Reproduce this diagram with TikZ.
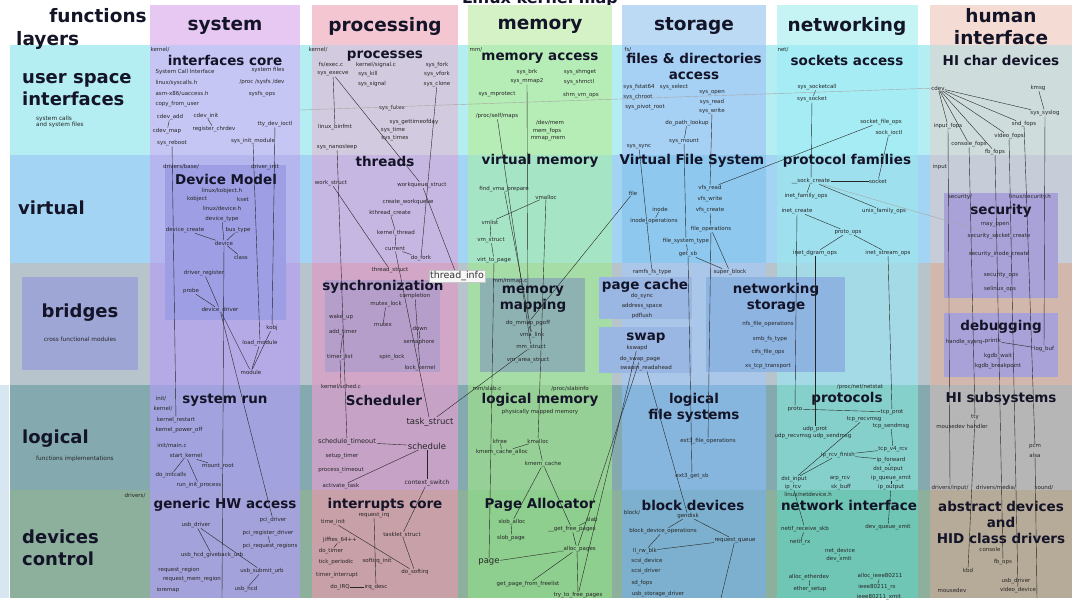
\documentclass[tikz,border=0pt]{standalone}
\usepackage{fontspec}
\setmainfont{DejaVu Sans}
% layer bands
\definecolor{bandA}{HTML}{B4EEF2}
\definecolor{bandB}{HTML}{A4D4F4}
\definecolor{bandC}{HTML}{B8C4CC}
\definecolor{bandD}{HTML}{84AAB0}
\definecolor{bandE}{HTML}{8CB09C}
\definecolor{edgeStrip}{HTML}{D8E6F2}
% column headers
\definecolor{hSys}{HTML}{E6C8F2}
\definecolor{hProc}{HTML}{F4C6D2}
\definecolor{hMem}{HTML}{D4F2C6}
\definecolor{hStor}{HTML}{BCDAF4}
\definecolor{hNet}{HTML}{C6F4F4}
\definecolor{hHI}{HTML}{F4DCD4}
% cells, row 1
\definecolor{aSys}{HTML}{C6C6F4}
\definecolor{aProc}{HTML}{D2CADE}
\definecolor{aMem}{HTML}{B6ECB6}
\definecolor{aStor}{HTML}{A6D0F4}
\definecolor{aNet}{HTML}{A6ECF4}
\definecolor{aHI}{HTML}{CEDCDC}
% row 2
\definecolor{bSys}{HTML}{B6B6EE}
\definecolor{bDM}{HTML}{9E9EE4}
\definecolor{bProc}{HTML}{C6B6E2}
\definecolor{bMem}{HTML}{A6E4C6}
\definecolor{bStor}{HTML}{8EC8EE}
\definecolor{bNet}{HTML}{9EE0EE}
\definecolor{bHI}{HTML}{C6CCD8}
\definecolor{secBox}{HTML}{A8A2D8}
% row 3
\definecolor{cLeft}{HTML}{9EA6D6}
\definecolor{cSys}{HTML}{B6AAE6}
\definecolor{cProc}{HTML}{D2A6C6}
\definecolor{cSync}{HTML}{B69ECA}
\definecolor{cMem}{HTML}{A6DCA6}
\definecolor{cMM}{HTML}{8EB2B2}
\definecolor{cStor}{HTML}{AAC6E8}
\definecolor{cPC}{HTML}{9AB6E2}
\definecolor{cNet}{HTML}{A4DAE6}
\definecolor{cNS}{HTML}{8EB4E2}
\definecolor{cHI}{HTML}{D2B8AC}
% row 4
\definecolor{dSys}{HTML}{A2A2DE}
\definecolor{dProc}{HTML}{C6A2C6}
\definecolor{dMem}{HTML}{96D096}
\definecolor{dStor}{HTML}{86B6DE}
\definecolor{dNet}{HTML}{86D0CC}
\definecolor{dHI}{HTML}{B6B6B6}
% row 5
\definecolor{eSys}{HTML}{A4A2DA}
\definecolor{eProc}{HTML}{C8A0A8}
\definecolor{eMem}{HTML}{8ECE8E}
\definecolor{eStor}{HTML}{7CB0CE}
\definecolor{eNet}{HTML}{70C6B4}
\definecolor{eHI}{HTML}{B6AA98}
\definecolor{ink}{HTML}{141428}
\begin{document}
\begin{tikzpicture}[x=1pt,y=-1pt,
  lbl/.style={font=\fontsize{5.5}{6.3}\selectfont, inner sep=0.4pt, text=black!85},
  lblw/.style={lbl, anchor=west},
  mid/.style={font=\fontsize{8.5}{10}\selectfont, inner sep=0.5pt, text=black!85},
  ttl/.style={font=\bfseries\fontsize{13.5}{16}\selectfont, inner sep=0pt, text=ink, align=center},
  hdr/.style={font=\bfseries\fontsize{18.5}{22}\selectfont, inner sep=0pt, text=ink, align=center},
  rowl/.style={font=\bfseries\fontsize{18}{22}\selectfont, inner sep=0pt, anchor=west, align=left, text=ink},
  note/.style={font=\fontsize{5.8}{6.8}\selectfont, inner sep=0pt, align=left, text=black!85},
  wire/.style={draw=black!85, line width=0.4pt},
  faint/.style={draw=black!35, line width=0.4pt},
]
\useasboundingbox (0,0) rectangle (1072,602);
\fill[white] (0,0) rectangle (1072,602);

% ---------------- map title (cut by the top edge)
\node[font=\bfseries\fontsize{16}{18}\selectfont, anchor=base, inner sep=0pt, text=ink] (maptitle) at (540,4) {Linux kernel map};

% ---------------- layer bands
\fill[bandA] (10,45) rectangle (1072,155);
\fill[bandB] (10,155) rectangle (1072,263);
\fill[bandC] (10,263) rectangle (1072,385);
\fill[bandD] (10,385) rectangle (1072,490);
\fill[bandE] (10,490) rectangle (1072,598);
\fill[edgeStrip] (0,385) rectangle (9,598);

% ---------------- column headers
\fill[hSys]  (150,5) rectangle (300,45);
\fill[hProc] (312,5) rectangle (458,45);
\fill[hMem]  (468,5) rectangle (612,45);
\fill[hStor] (622,5) rectangle (766,45);
\fill[hNet]  (777,5) rectangle (918,45);
\fill[hHI]   (930,5) rectangle (1072,45);

% ---------------- cells
\fill[aSys]  (150,45) rectangle (300,155);
\fill[aProc] (312,45) rectangle (458,155);
\fill[aMem]  (468,45) rectangle (612,155);
\fill[aStor] (622,45) rectangle (766,155);
\fill[aNet]  (777,45) rectangle (918,155);
\fill[aHI]   (930,45) rectangle (1072,155);

\fill[bSys]  (150,155) rectangle (300,263);
\fill[bProc] (312,155) rectangle (458,263);
\fill[bMem]  (468,155) rectangle (612,263);
\fill[bStor] (622,155) rectangle (766,263);
\fill[bNet]  (777,155) rectangle (918,263);
\fill[bHI]   (930,155) rectangle (1072,263);

\fill[cSys]  (150,263) rectangle (300,385);
\fill[cProc] (312,263) rectangle (458,385);
\fill[cMem]  (468,263) rectangle (612,385);
\fill[cStor] (622,263) rectangle (766,385);
\fill[cNet]  (777,263) rectangle (918,385);
\fill[cHI]   (930,263) rectangle (1072,385);

\fill[dSys]  (150,385) rectangle (300,490);
\fill[dProc] (312,385) rectangle (458,490);
\fill[dMem]  (468,385) rectangle (612,490);
\fill[dStor] (622,385) rectangle (766,490);
\fill[dNet]  (777,385) rectangle (918,490);
\fill[dHI]   (930,385) rectangle (1072,490);

\fill[eSys]  (150,490) rectangle (300,598);
\fill[eProc] (312,490) rectangle (458,598);
\fill[eMem]  (468,490) rectangle (612,598);
\fill[eStor] (622,490) rectangle (766,598);
\fill[eNet]  (777,490) rectangle (918,598);
\fill[eHI]   (930,490) rectangle (1072,598);

% ---------------- inner boxes
\fill[cLeft] (22,277) rectangle (138,370);
\fill[bDM]   (165,165) rectangle (286,320);
\fill[cSync] (325,280) rectangle (440,372);
\fill[cMM]   (480,278) rectangle (585,372);
\fill[cPC]   (599,277) rectangle (692,319);
\fill[cPC]   (599,327) rectangle (692,373);
\fill[cNS]   (706,277) rectangle (845,372);
\fill[secBox] (944,193) rectangle (1058,298);
\fill[secBox] (944,313) rectangle (1058,377);

% ---------------- header texts
\node[hdr] (hfunc) at (98,16) {functions};
\node[hdr, anchor=west] (hlay) at (16,40) {layers};
\node[hdr] (csys) at (225,26) {system};
\node[hdr] (cproc) at (385,26) {processing};
\node[hdr] (cmem) at (540,26) {memory};
\node[hdr] (cstor) at (694,26) {storage};
\node[hdr] (cnet) at (847,26) {networking};
\node[hdr] (chi) at (1001,27) {human\\interface};

% ---------------- layer names
\node[rowl] (rusr) at (22,90) {user space\\interfaces};
\node[note, anchor=west] (rusrn) at (36,122) {system calls\\and system files};
\node[rowl] (rvirt) at (18,208) {virtual};
\node[rowl, anchor=center] (rbr) at (80,313) {bridges};
\node[note] (rbrn) at (80,339) {cross functional modules};
\node[rowl] (rlog) at (22,439) {logical};
\node[note, anchor=west] (rlogn) at (36,459) {functions implementations};
\node[rowl] (rdev) at (22,548) {devices\\control};

% ---------------- cell titles
\node[ttl] (tic) at (225,60) {interfaces core};
\node[ttl] (tproc) at (385,56) {processes};
\node[ttl] (tmacc) at (540,58) {memory access};
\node[ttl] (tfda) at (694,66) {files \& directories\\access};
\node[ttl] (tsock) at (847,60) {sockets access};
\node[ttl] (thic) at (1001,60) {HI char devices};
\node[ttl] (tdm) at (226,179) {Device Model};
\node[ttl] (tthr) at (385,161) {threads};
\node[ttl] (tvm) at (540,161) {virtual memory};
\node[ttl] (tvfs) at (692,161) {Virtual File System};
\node[ttl] (tpf) at (847,161) {protocol families};
\node[ttl] (tsec) at (1001,211) {security};
\node[ttl] (tsync) at (383,287) {synchronization};
\node[ttl] (tmm) at (533,299) {memory\\mapping};
\node[ttl] (tpc) at (645,286) {page cache};
\node[ttl] (tswap) at (646,338) {swap};
\node[ttl] (tns) at (776,298) {networking\\storage};
\node[ttl] (tdbg) at (1001,327) {debugging};
\node[ttl] (tsr) at (225,400) {system run};
\node[ttl] (tsch) at (384,400) {Scheduler};
\node[ttl] (tlm) at (540,400) {logical memory};
\node[ttl] (tlfs) at (694,408) {logical\\file systems};
\node[ttl] (tprot) at (847,399) {protocols};
\node[ttl] (this) at (1001,399) {HI subsystems};
\node[ttl] (tghw) at (225,505) {generic HW access};
\node[ttl] (tirq) at (385,505) {interrupts core};
\node[ttl] (tpa) at (540,505) {Page Allocator};
\node[ttl] (tbd) at (693,505) {block devices};
\node[ttl] (tni) at (849,505) {network interface};
\node[ttl] (tad) at (1001,522) {abstract devices\\and\\HID class drivers};

% ================= system column
\node[lbl] (kdir) at (160,50) {kernel/};
\node[lblw] (sci) at (155,72) {System Call Interface};
\node[lbl] (sysfiles) at (268,70) {system files};
\node[lblw] (sysh) at (155,83) {linux/syscalls.h};
\node[lbl] (procfs) at (262,82) {/proc /sysfs /dev};
\node[lblw] (uacc) at (155,94) {asm-x86/uaccess.h};
\node[lbl] (sysfsops) at (262,94) {sysfs\_ops};
\node[lblw] (cfu) at (155,104) {copy\_from\_user};
\node[lbl] (cdevadd) at (170,117) {cdev\_add};
\node[lbl] (cdevinit) at (206,116) {cdev\_init};
\node[lbl] (cdevmap) at (167,131) {cdev\_map};
\node[lbl] (regchr) at (214,129) {register\_chrdev};
\node[lbl] (ttyio) at (275,124) {tty\_dev\_ioctl};
\node[lbl] (sysreboot) at (172,143) {sys\_reboot};
\node[lbl] (sysinit) at (253,141) {sys\_init\_module};

\node[lbl] (drvbase) at (181,167) {drivers/base/};
\node[lbl] (drvinit) at (265,167) {driver\_init};
\node[lbl] (kobjh) at (222,191) {linux/kobject.h};
\node[lbl] (kobject) at (197,199) {kobject};
\node[lbl] (kset) at (243,199) {kset};
\node[lbl] (devh) at (222,209) {linux/device.h};
\node[lbl] (devtype) at (222,219) {device\_type};
\node[lbl] (devcreate) at (185,230) {device\_create};
\node[lbl] (bustype) at (238,230) {bus\_type};
\node[lbl] (device) at (224,243) {device};
\node[lbl] (class) at (241,257) {class};

\node[lbl] (drvreg) at (204,273) {driver\_register};
\node[lbl] (probe) at (191,291) {probe};
\node[lbl] (devdrv) at (220,310) {device\_driver};
\node[lbl] (kobj) at (272,328) {kobj};
\node[lbl] (loadmod) at (260,343) {load\_module};
\node[lbl] (module) at (251,372) {module};

\node[lbl] (initdir) at (161,399) {init/};
\node[lbl] (kerndir) at (163,409) {kernel/};
\node[lbl] (krestart) at (176,420) {kernel\_restart};
\node[lbl] (kpoweroff) at (179,430) {kernel\_power\_off};
\node[lbl] (initmain) at (172,446) {init/main.c};
\node[lbl] (startk) at (186,456) {start\_kernel};
\node[lbl] (mountroot) at (218,466) {mount\_root};
\node[lbl] (doinit) at (171,475) {do\_initcalls};
\node[lbl] (runinit) at (199,485) {run\_init\_process};

\node[lbl] (drvdir) at (135,496) {drivers/};
\node[lbl] (usbdrv) at (196,525) {usb\_driver};
\node[lbl] (pcidrv) at (273,520) {pci\_driver};
\node[lbl] (pcireg) at (268,533) {pci\_register\_driver};
\node[lbl] (pcireq) at (270,546) {pci\_request\_regions};
\node[lbl] (usbgive) at (212,555) {usb\_hcd\_giveback\_urb};
\node[lbl] (reqreg) at (179,570) {request\_region};
\node[lbl] (reqmem) at (192,579) {request\_mem\_region};
\node[lbl] (ioremap) at (168,590) {ioremap};
\node[lbl] (usbsub) at (262,571) {usb\_submit\_urb};
\node[lbl] (usbhcd) at (246,589) {usb\_hcd};
\coordinate (devbot) at (222,598);

\draw[wire] (cdevadd) -- (cdevmap);
\draw[wire] (cdevinit) -- (regchr);
\draw[wire] (sysreboot) -- (krestart);
\draw[wire] (sysinit) -- (loadmod);
\draw[wire] (ttyio) -- (kobj);
\draw[wire] (devcreate) -- (device);
\draw[wire] (bustype) -- (device);
\draw[wire] (devtype) -- (device);
\draw[wire] (device) -- (class);
\draw[wire] (drvreg) -- (devdrv);
\draw[wire] (probe) -- (devdrv);
\draw[wire] (devdrv) -- (module);
\draw[wire] (loadmod) -- (module);
\draw[wire] (kobj) -- (module);
\draw[wire] (device) -- (devbot);
\draw[wire] (devdrv) -- (pcidrv);
\draw[wire] (startk) -- (mountroot);
\draw[wire] (startk) -- (doinit);
\draw[wire] (startk) -- (runinit);
\draw[wire] (usbdrv) -- (usbgive);
\draw[wire] (usbdrv) -- (usbsub);
\draw[wire] (usbsub) -- (usbhcd);
\draw[wire] (pcireg) -- (pcireq);

% ================= processing column
\node[lbl] (kdir2) at (318,50) {kernel/};
\node[lbl] (fsexec) at (331,65) {fs/exec.c};
\node[lbl] (ksignal) at (376,65) {kernel/signal.c};
\node[lbl] (sysfork) at (437,65) {sys\_fork};
\node[lbl] (sysexecve) at (333,74) {sys\_execve};
\node[lbl] (syskill) at (368,74) {sys\_kill};
\node[lbl] (sysvfork) at (437,74) {sys\_vfork};
\node[lbl] (syssignal) at (372,84) {sys\_signal};
\node[lbl] (sysclone) at (437,84) {sys\_clone};
\node[lbl] (sysfutex) at (392,108) {sys\_futex};
\node[lbl] (gettod) at (414,122) {sys\_gettimeofday};
\node[lbl] (binfmt) at (335,127) {linux\_binfmt};
\node[lbl] (systime) at (393,130) {sys\_time};
\node[lbl] (systimes) at (395,138) {sys\_times};
\node[lbl] (nanosleep) at (337,147) {sys\_nanosleep};

\node[lbl] (workstr) at (331,183) {work\_struct};
\node[lbl] (wqstr) at (422,185) {workqueue\_struct};
\node[lbl] (createwq) at (408,202) {create\_workqueue};
\node[lbl] (kthcreate) at (390,213) {kthread\_create};
\node[lbl] (kthread) at (396,233) {kernel\_thread};
\node[lbl] (current) at (395,249) {current};
\node[lbl] (dofork) at (421,258) {do\_fork};
\node[lbl] (thrstr) at (390,270) {thread\_struct};

\node[lbl] (completion) at (415,296) {completion};
\node[lbl] (mutexlock) at (386,304) {mutex\_lock};
\node[lbl] (wakeup) at (341,317) {wake\_up};
\node[lbl] (mutex) at (383,325) {mutex};
\node[lbl] (down) at (420,328) {down};
\node[lbl] (addtimer) at (343,332) {add\_timer};
\node[lbl] (semaphore) at (419,342) {semaphore};
\node[lbl] (timerlist) at (340,357) {timer\_list};
\node[lbl] (spinlock) at (392,357) {spin\_lock};
\node[lbl] (lockk) at (420,368) {lock\_kernel};

\node[lbl] (schedc) at (341,387) {kernel/sched.c};
\node[mid] (taskstr) at (430,422) {task\_struct};
\node[font=\fontsize{6.5}{8}\selectfont, inner sep=0.5pt, text=black!85] (schedto) at (347,442) {schedule\_timeout};
\node[mid] (schedule) at (427,446) {schedule};
\node[lbl] (setuptimer) at (342,456) {setup\_timer};
\node[lbl] (proctimeout) at (341,470) {process\_timeout};
\node[lbl] (activate) at (341,486) {activate\_task};
\node[font=\fontsize{6}{7}\selectfont, inner sep=0.5pt, text=black!85] (ctxsw) at (427,483) {context\_switch};

\node[lbl] (reqirq) at (374,515) {request\_irq};
\node[lbl] (timeinit) at (333,522) {time\_init};
\node[lbl] (tasklet) at (402,535) {tasklet\_struct};
\node[lbl] (jiffies) at (340,540) {jiffies\_64++};
\node[lbl] (dotimer) at (331,551) {do\_timer};
\node[lbl] (softinit) at (377,561) {softirq\_init};
\node[lbl] (tickper) at (336,562) {tick\_periodic};
\node[lbl] (dosoftirq) at (415,572) {do\_softirq};
\node[lbl] (timerint) at (337,575) {timer\_interrupt};
\node[lbl] (doirq) at (340,587) {do\_IRQ};
\node[lbl] (irqdesc) at (376,587) {irq\_desc};

\node[font=\fontsize{9.5}{11}\selectfont, fill=gray!6, draw=gray!45, inner sep=1.3pt, text=black!80] (tinfo) at (457,276) {thread\_info};

\draw[wire] (sysexecve) -- (binfmt);
\draw[wire] (sysexecve) -- (wqstr);
\draw[wire] (wqstr) -- (tinfo);
\draw[wire] (sysclone) -- (dofork);
\draw[wire] (nanosleep) -- (schedto);
\draw[wire] (workstr) -- (thrstr);
\draw[wire] (kthcreate) -- (kthread);
\draw[wire] (kthread) -- (current);
\draw[wire] (current) -- (dofork);
\draw[wire] (mutexlock) -- (mutex);
\draw[wire] (down) -- (semaphore);
\draw[wire] (completion) -- (lockk);
\draw[wire] (addtimer) -- (timerlist);
\draw[wire] (timerlist) -- (schedc);
\draw[wire] (schedto) -- (schedule);
\draw[wire] (schedule) -- (ctxsw);
\draw[wire] (schedule) -- (activate);
\draw[wire] (current) -- (taskstr);
\draw[wire] (reqirq) -- (irqdesc);
\draw[wire] (timeinit) -- (dosoftirq);
\draw[wire] (doirq) -- (irqdesc);
\draw[wire] (dotimer) -- (jiffies);
\draw[wire] (tasklet) -- (dosoftirq);
\draw[wire] (ctxsw) -- (tasklet);

% ================= memory column
\node[lbl] (mmdir) at (476,50) {mm/};
\node[lbl] (sysbrk) at (527,72) {sys\_brk};
\node[lbl] (sysmmap) at (527,81) {sys\_mmap2};
\node[lbl] (shmget) at (580,72) {sys\_shmget};
\node[lbl] (shmctl) at (579,82) {sys\_shmctl};
\node[lbl] (shmvm) at (581,95) {shm\_vm\_ops};
\node[lbl] (mprot) at (497,94) {sys\_mprotect};
\node[lbl] (procmaps) at (497,116) {/proc/self/maps};
\node[lbl] (devmem) at (550,123) {/dev/mem};
\node[lbl] (memfops) at (547,131) {mem\_fops};
\node[lbl] (mmapmem) at (548,139) {mmap\_mem};

\node[lbl] (findvma) at (504,189) {find\_vma\_prepare};
\node[lbl] (vmalloc) at (546,197) {vmalloc};
\node[lbl] (vmlist) at (490,222) {vmlist};
\node[lbl] (vmstruct) at (491,240) {vm\_struct};
\node[lbl] (virttopage) at (494,260) {virt\_to\_page};
\node[lbl] (mmapc) at (510,281) {mm/mmap.c};

\node[lbl] (domap) at (528,323) {do\_mmap\_pgoff};
\node[lbl] (vmalink) at (532,335) {vma\_link};
\node[lbl] (mmstruct) at (531,347) {mm\_struct};
\node[lbl] (vmarea) at (528,360) {vm\_area\_struct};

\node[lbl] (slabc) at (487,389) {mm/slab.c};
\node[lbl] (slabinfo) at (570,389) {/proc/slabinfo};
\node[lbl] (physmem) at (540,412) {physically mapped memory};
\node[lbl] (kfree) at (500,441) {kfree};
\node[lbl] (kmalloc) at (538,441) {kmalloc};
\node[lbl] (kmcalloc) at (502,452) {kmem\_cache\_alloc};
\node[lbl] (kmcache) at (543,464) {kmem\_cache};

\node[lbl] (sloballoc) at (512,522) {slob\_alloc};
\node[lbl] (slab) at (592,519) {slab};
\node[lbl] (getfree) at (572,529) {\_\_get\_free\_pages};
\node[lbl] (slobpage) at (511,538) {slob\_page};
\node[lbl] (allocpages) at (577,549) {\_\_alloc\_pages};
\node[mid] (page) at (489,562) {page};
\node[lbl] (getpage) at (528,584) {get\_page\_from\_freelist};
\node[lbl] (tryfree) at (578,595) {try\_to\_free\_pages};

\draw[wire] (sysmmap) -- (domap);
\draw[wire] (procmaps) -- (mmstruct);
\draw[wire] (vmalloc) -- (vmlist);
\draw[wire] (vmlist) -- (vmstruct);
\draw[wire] (vmstruct) -- (virttopage);
\draw[wire] (virttopage) -- (page);
\draw[wire] (vmalloc) -- (kmalloc);
\draw[wire] (findvma) -- (vmalink);
\draw[wire] (domap) -- (vmalink);
\draw[wire] (taskstr) -- (mmstruct);
\draw[wire] (kmalloc) -- (kmcalloc);
\draw[wire] (kmalloc) -- (kmcache);
\draw[wire] (kfree) -- (kmcalloc);
\draw[wire] (kmcache) -- (sloballoc);
\draw[wire] (kmcache) -- (getfree);
\draw[wire] (sloballoc) -- (slobpage);
\draw[wire] (slab) -- (getfree);
\draw[wire] (getfree) -- (allocpages);
\draw[wire] (allocpages) -- (page);
\draw[wire] (allocpages) -- (getpage);
\draw[wire] (allocpages) -- (tryfree);

% ================= storage column
\node[lbl] (fsdir) at (628,50) {fs/};
\node[lbl] (fstat) at (639,87) {sys\_fstat64};
\node[lbl] (select) at (674,87) {sys\_select};
\node[lbl] (sysopen) at (712,93) {sys\_open};
\node[lbl] (chroot) at (638,97) {sys\_chroot};
\node[lbl] (sysread) at (712,102) {sys\_read};
\node[lbl] (pivot) at (645,107) {sys\_pivot\_root};
\node[lbl] (syswrite) at (712,111) {sys\_write};
\node[lbl] (pathlookup) at (687,123) {do\_path\_lookup};
\node[lbl] (sysmount) at (684,141) {sys\_mount};
\node[lbl] (syssync) at (639,147) {sys\_sync};

\node[lbl] (file) at (633,193) {file};
\node[lbl] (vfsread) at (710,188) {vfs\_read};
\node[lbl] (vfswrite) at (710,199) {vfs\_write};
\node[lbl] (inode) at (660,209) {inode};
\node[lbl] (vfscreate) at (710,210) {vfs\_create};
\node[lbl] (inodeops) at (654,221) {inode\_operations};
\node[lbl] (fileops) at (711,229) {file\_operations};
\node[lbl] (fstype) at (686,241) {file\_system\_type};
\node[lbl] (getsb) at (688,254) {get\_sb};
\node[lbl] (ramfs) at (652,272) {ramfs\_fs\_type};
\node[lbl] (superblk) at (730,272) {super\_block};

\node[lbl] (dosync) at (642,296) {do\_sync};
\node[lbl] (addrspace) at (642,306) {address\_space};
\node[lbl] (pdflush) at (642,316) {pdflush};
\node[lbl] (kswapd) at (637,348) {kswapd};
\node[lbl] (doswap) at (640,359) {do\_swap\_page};
\node[lbl] (swapin) at (646,368) {swapin\_readahead};

\node[lbl] (nfsops) at (768,324) {nfs\_file\_operations};
\node[lbl] (smbfs) at (770,339) {smb\_fs\_type};
\node[lbl] (cifsops) at (768,352) {cifs\_file\_ops};
\node[lbl] (xstcp) at (768,366) {xs\_tcp\_transport};

\node[lbl] (ext3ops) at (708,441) {ext3\_file\_operations};
\node[lbl] (ext3sb) at (692,476) {ext3\_get\_sb};

\node[lbl] (blockdir) at (632,513) {block/};
\node[lbl] (gendisk) at (688,516) {gendisk};
\node[lbl] (bdops) at (663,531) {block\_device\_operations};
\node[lbl] (reqq) at (735,540) {request\_queue};
\node[lbl] (llrw) at (645,551) {ll\_rw\_blk};
\node[lbl] (scsidev) at (647,561) {scsi\_device};
\node[lbl] (scsidrv) at (646,571) {scsi\_driver};
\node[lbl] (sdfops) at (642,583) {sd\_fops};
\node[lbl] (usbstor) at (658,594) {usb\_storage\_driver};
\coordinate (rqbot) at (721,598);

\draw[wire] (syswrite) -- (vfsread);
\draw[wire] (sysmount) -- (fstype);
\draw[wire] (syssync) -- (ramfs);
\draw[wire] (pathlookup) -- (sysmount);
\draw[wire] (vfscreate) -- (fileops);
\draw[wire] (fileops) -- (superblk);
\draw[wire] (fstype) -- (getsb);
\draw[wire] (getsb) -- (superblk);
\draw[wire] (inode) -- (inodeops);
\draw[wire] (file) -- (domap);
\draw[wire] (fileops) -- (ext3ops);
\draw[wire] (getsb) -- (ext3sb);
\draw[wire] (kswapd) -- (tryfree);
\draw[wire] (doswap) -- (allocpages);
\draw[wire] (swapin) -- (gendisk);
\draw[wire] (gendisk) -- (bdops);
\draw[wire] (gendisk) -- (reqq);
\draw[wire] (bdops) -- (llrw);
\draw[wire] (llrw) -- (reqq);
\draw[wire] (reqq) -- (rqbot);

% ================= networking column
\node[lbl] (netdir) at (783,50) {net/};
\node[lbl] (socketcall) at (817,87) {sys\_socketcall};
\node[lbl] (syssocket) at (812,99) {sys\_socket};
\node[lbl] (sockfops) at (881,122) {socket\_file\_ops};
\node[lbl] (sockioctl) at (889,133) {sock\_ioctl};

\node[lbl] (sockcreate) at (811,181) {\_\_sock\_create};
\node[lbl] (socket) at (878,181) {socket};
\node[lbl] (inetfam) at (806,196) {inet\_family\_ops};
\node[lbl] (inetcreate) at (797,211) {inet\_create};
\node[lbl] (unixfam) at (884,211) {unix\_family\_ops};
\node[lbl] (protoops) at (848,232) {proto\_ops};
\node[lbl] (dgramops) at (815,253) {inet\_dgram\_ops};
\node[lbl] (streamops) at (888,253) {inet\_stream\_ops};

\node[lbl] (procnet) at (860,387) {/proc/net/netstat};
\node[lbl] (proto) at (795,409) {proto};
\node[lbl] (tcpprot) at (892,412) {tcp\_prot};
\node[lbl] (tcprecv) at (864,419) {tcp\_recvmsg};
\node[lbl] (tcpsend) at (891,426) {tcp\_sendmsg};
\node[lbl] (udpprot) at (815,429) {udp\_prot};
\node[lbl] (udpmsg) at (813,436) {udp\_recvmsg udp\_sendmsg};
\node[lbl] (tcpv4) at (893,449) {tcp\_v4\_rcv};
\node[lbl] (iprcvfin) at (838,455) {ip\_rcv\_finish};
\node[lbl] (ipfwd) at (891,460) {ip\_forward};
\node[lbl] (dstout) at (888,469) {dst\_output};
\node[lbl] (dstin) at (794,479) {dst\_input};
\node[lbl] (arprcv) at (840,479) {arp\_rcv};
\node[lbl] (ipqx) at (891,478) {ip\_queue\_xmit};
\node[lbl] (iprcv) at (793,487) {ip\_rcv};
\node[lbl] (skbuff) at (841,487) {sk\_buff};
\node[lbl] (ipout) at (891,487) {ip\_output};

\node[lbl] (netdevh) at (808,495) {linux/netdevice.h};
\node[lbl] (devqx) at (888,527) {dev\_queue\_xmit};
\node[lbl] (netifrecv) at (805,529) {netif\_receive\_skb};
\node[lbl] (netifrx) at (800,542) {netif\_rx};
\node[lbl] (netdev) at (840,551) {net\_device};
\node[lbl] (devxmit) at (839,559) {dev\_xmit};
\node[lbl] (allocether) at (809,577) {alloc\_etherdev};
\node[lbl] (allocieee) at (880,576) {alloc\_ieee80211};
\node[lbl] (ethersetup) at (810,589) {ether\_setup};
\node[lbl] (ieeerx) at (877,587) {ieee80211\_rx};
\node[lbl] (ieeexmit) at (879,597) {ieee80211\_xmit};

\draw[wire] (socketcall) -- (syssocket);
\draw[wire] (syssocket) -- (sockcreate);
\draw[wire] (sockioctl) -- (socket);
\draw[wire] (vfsread) -- (sockfops);
\draw[wire] (sockcreate) -- (socket);
\draw[wire] (sockcreate) -- (inetfam);
\draw[wire] (sockcreate) -- (unixfam);
\draw[wire] (inetcreate) -- (protoops);
\draw[wire] (protoops) -- (dgramops);
\draw[wire] (protoops) -- (streamops);
\draw[wire] (inetcreate) -- (proto);
\draw[wire] (dgramops) -- (udpprot);
\draw[wire] (streamops) -- (tcpprot);
\draw[wire] (proto) -- (tcpprot);
\draw[wire] (udpprot) -- (udpmsg);
\draw[wire] (tcpsend) -- (tcpv4);
\draw[wire] (tcpv4) -- (iprcvfin);
\draw[wire] (iprcvfin) -- (ipfwd);
\draw[wire] (tcprecv) -- (dstin);
\draw[wire] (iprcvfin) -- (dstin);
\draw[wire] (dstin) -- (iprcv);
\draw[wire] (ipqx) -- (ipout);
\draw[wire] (ipfwd) -- (dstout);
\draw[wire] (iprcv) -- (netifrecv);
\draw[wire] (ipout) -- (devqx);
\draw[wire] (netifrecv) -- (netifrx);
\draw[wire] (netdev) -- (devxmit);
\draw[wire] (allocether) -- (ethersetup);
\draw[wire] (allocieee) -- (ieeerx);

% ================= human interface column
\node[lbl] (cdev) at (938,88) {cdev};
\node[lbl] (kmsg) at (1038,88) {kmsg};
\node[lbl] (syslog) at (1045,113) {sys\_syslog};
\node[lbl] (sndfops) at (1024,124) {snd\_fops};
\node[lbl] (inputfops) at (948,126) {input\_fops};
\node[lbl] (videofops) at (1009,136) {video\_fops};
\node[lbl] (consfops) at (969,144) {console\_fops};
\node[lbl] (fbfops) at (995,152) {fb\_fops};
\coordinate (cdevend) at (300,110);

\node[lbl] (input) at (940,167) {input};
\node[lbl] (secdir) at (960,197) {security/};
\node[lbl] (sech) at (1030,197) {linux/security.h};
\node[lbl] (mayopen) at (995,225) {may\_open};
\node[lbl] (secsock) at (999,236) {security\_socket\_create};
\node[lbl] (secinode) at (999,254) {security\_inode\_create};
\node[lbl] (secops) at (1001,275) {security\_ops};
\node[lbl] (selinux) at (1000,289) {selinux\_ops};

\node[lbl] (sysrq) at (964,342) {handle\_sysrq};
\node[lbl] (printk) at (993,341) {printk};
\node[lbl] (logbuf) at (1044,349) {log\_buf};
\node[lbl] (kgdbwait) at (998,356) {kgdb\_wait};
\node[lbl] (kgdbbp) at (998,366) {kgdb\_breakpoint};

\node[lbl] (tty) at (975,417) {tty};
\node[lbl] (mousehand) at (962,426) {mousedev handler};
\node[lbl] (pcm) at (1035,447) {pcm};
\node[lbl] (alsa) at (1035,455) {alsa};
\node[lbl] (drvinput) at (950,488) {drivers/input/};
\node[lbl] (drvmedia) at (996,488) {drivers/media/};
\node[lbl] (sounddir) at (1044,488) {sound/};

\node[lbl] (console) at (990,549) {console};
\node[lbl] (fbops) at (1003,562) {fb\_ops};
\node[lbl] (kbd) at (968,570) {kbd};
\node[lbl] (usbdrv2) at (1016,581) {usb\_driver};
\node[lbl] (mousedev) at (952,590) {mousedev};
\node[lbl] (videodev) at (1018,590) {video\_device};
\coordinate (sndbot) at (1037,598);

\draw[faint] (cdev) -- (cdevend);
\draw[faint] (sockcreate) -- (secsock);
\draw[wire] (cdev) -- (inputfops);
\draw[wire] (cdev) -- (consfops);
\draw[wire] (cdev) -- (fbfops);
\draw[wire] (cdev) -- (videofops);
\draw[wire] (cdev) -- (sndfops);
\draw[wire] (cdev) -- (syslog);
\draw[wire] (kmsg) -- (syslog);
\draw[wire] (inputfops) -- (drvinput);
\draw[wire] (consfops) -- (tty);
\draw[wire] (tty) -- (kbd);
\draw[wire] (fbfops) -- (fbops);
\draw[wire] (videofops) -- (videodev);
\draw[wire] (sndfops) -- (pcm);
\draw[wire] (alsa) -- (sndbot);
\draw[wire] (syslog) -- (logbuf);
\draw[wire] (printk) -- (logbuf);
\draw[wire] (sysrq) -- (printk);
\end{tikzpicture}
\end{document}
